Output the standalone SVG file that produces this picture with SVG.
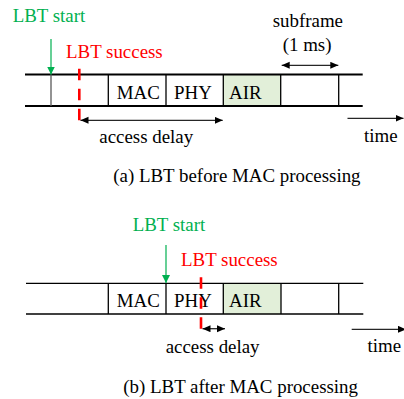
<svg xmlns="http://www.w3.org/2000/svg" width="404" height="399" viewBox="0 0 404 399">
<style>
text{font-family:"Liberation Serif","Times New Roman",serif;font-size:18.9px;fill:#000}
.g{fill:#00B050}.r{fill:#FF0000}
.lane{stroke:#000;fill:none}
.div{stroke:#000;stroke-width:1.3}
.air{fill:#E2EFD9}
.arr{stroke:#262626;stroke-width:1.3;fill:none;marker-end:url(#ah);marker-start:url(#ah)}
.arr1{stroke:#262626;stroke-width:1.3;fill:none;marker-end:url(#ah)}
.garr{stroke:#00B050;stroke-width:1.2;fill:none;marker-end:url(#gh)}
.rd{stroke:#FF0000;stroke-width:2.6;stroke-dasharray:11.5 8.5;fill:none}
</style>
<defs>
<marker id="ah" markerUnits="userSpaceOnUse" markerWidth="9" markerHeight="8" refX="8" refY="3.5" orient="auto-start-reverse"><path d="M0,0 L8,3.5 L0,7 z" fill="#000"/></marker>
<marker id="gh" markerUnits="userSpaceOnUse" markerWidth="9" markerHeight="9" refX="8" refY="4" orient="auto"><path d="M0,0 L8,4 L0,8 z" fill="#00B050"/></marker>
</defs>
<g id="timeline-a">
<rect class="air" x="223.3" y="74.5" width="57.4" height="31.5"/>
<line class="lane" x1="25" y1="74.5" x2="362.7" y2="74.5" stroke-width="2"/>
<line class="lane" x1="25" y1="106" x2="362.7" y2="106" stroke-width="2"/>
<line x1="51" y1="74.5" x2="51" y2="106" stroke="#595959" stroke-width="1.3"/>
<line class="div" x1="108.3" y1="74.5" x2="108.3" y2="106"/>
<line class="div" x1="166" y1="74.5" x2="166" y2="106"/>
<line class="div" x1="223.3" y1="74.5" x2="223.3" y2="106"/>
<line class="div" x1="280.7" y1="74.5" x2="280.7" y2="106"/>
<line class="div" x1="338.7" y1="74.5" x2="338.7" y2="106"/>
<text x="116.7" y="99">MAC</text>
<text x="174" y="99">PHY</text>
<text x="229" y="99">AIR</text>
</g>
<g id="labels-a">
<text class="g" x="12.7" y="21.5">LBT start</text>
<text class="r" x="66" y="58.3">LBT success</text>
<text x="272.7" y="26.7">subframe</text>
<text x="282.7" y="51">(1 ms)</text>
<text x="99.3" y="143.3">access delay</text>
<text x="364" y="141.5">time</text>
<text x="113.3" y="182">(a) LBT before MAC processing</text>
</g>
<g id="timeline-b">
<rect class="air" x="223.3" y="283.3" width="57.7" height="30.7"/>
<line class="lane" x1="26" y1="283.3" x2="363.3" y2="283.3" stroke-width="1.3"/>
<line class="lane" x1="26" y1="314" x2="363.3" y2="314" stroke-width="1.3"/>
<line class="div" x1="108.3" y1="283.3" x2="108.3" y2="314"/>
<line class="div" x1="166" y1="283.3" x2="166" y2="314"/>
<line class="div" x1="223.3" y1="283.3" x2="223.3" y2="314"/>
<line class="div" x1="281" y1="283.3" x2="281" y2="314"/>
<line class="div" x1="338.7" y1="283.3" x2="338.7" y2="314"/>
<text x="116.7" y="306.5">MAC</text>
<text x="174" y="306.5">PHY</text>
<text x="229" y="306.5">AIR</text>
</g>
<g id="labels-b">
<text class="g" x="132.7" y="230.7">LBT start</text>
<text class="r" x="181" y="266">LBT success</text>
<text x="165.7" y="353">access delay</text>
<text x="367.5" y="352">time</text>
<text x="123.3" y="393">(b) LBT after MAC processing</text>
</g>
<g id="connectors">
<line class="garr" x1="51" y1="39" x2="51" y2="74.5"/>
<line class="rd" x1="79.3" y1="68.7" x2="79.3" y2="121"/>
<line class="arr" x1="80.5" y1="120.3" x2="222.7" y2="120.3"/>
<line class="arr" x1="281.7" y1="65.3" x2="338.3" y2="65.3"/>
<line class="arr1" x1="347.5" y1="118.3" x2="403.5" y2="118.3"/>
<line class="garr" x1="166" y1="245" x2="166" y2="283"/>
<line class="rd" x1="201" y1="277.3" x2="201" y2="329.5"/>
<line class="arr" x1="202.5" y1="328.7" x2="225" y2="328.7"/>
<line class="arr1" x1="351.7" y1="329.3" x2="406" y2="329.3"/>
</g>
</svg>
